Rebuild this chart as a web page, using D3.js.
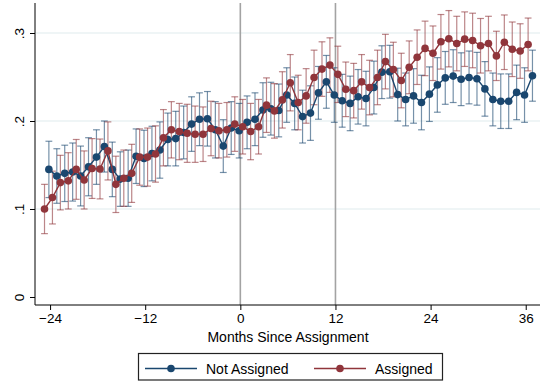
<!DOCTYPE html>
<html>
<head>
<meta charset="utf-8">
<script src="https://d3js.org/d3.v7.min.js"></script>
<style>
	body { margin: 0; background: #fff; }
	text { font-family: "Liberation Sans", Arial, sans-serif; fill: #000; }
</style>
</head>
<body>
<script>

	// months since assignment
	var months = d3.range(-24, 38);

	// share, not assigned / assigned
	var notAssigned = [
		.145, .1375, .1405, .142, .1375, .148, .159, .171, .145, .134, .135, .160,
		.1575, .163, .167, .179, .180, .187, .1965, .202, .2025, .190, .1715, .192,
		.189, .1985, .202, .2125, .214, .212, .2295, .220, .205, .209, .232, .2445,
		.2295, .223, .220, .2275, .2255, .238, .2555, .256, .230, .2245, .2285, .221,
		.2305, .241, .249, .251, .2475, .2495, .248, .2365, .2245, .2225, .2225, .2325, .2295, .2515
	];
	var assigned = [
		.100, .113, .130, .132, .145, .133, .146, .1455, .166, .128, .135, .1405,
		.159, .159, .1625, .181, .190, .188, .186, .185, .185, .1915, .189, .190,
		.1965, .1935, .188, .1935, .218, .2115, .224, .2435, .221, .2285, .2495, .259,
		.2635, .253, .236, .2345, .2445, .238, .2495, .2675, .2585, .246, .261, .2725,
		.2825, .277, .290, .2935, .288, .293, .2915, .2855, .288, .274, .2895, .2815, .2795, .287
	];

	// half width of the confidence bars
	var notAssignedCI = [
		.032, .031, .032, .033, .034, .033, .031, .029, .031, .031, .032, .031,
		.032, .031, .032, .030, .031, .030, .031, .030, .031, .032, .030, .030,
		.031, .030, .030, .031, .030, .030, .031, .030, .030, .031, .030, .030,
		.031, .030, .031, .031, .031, .030, .030, .030, .030, .030, .031, .031,
		.031, .031, .030, .030, .030, .030, .030, .031, .030, .031, .031, .031, .031, .029
	];
	var assignedCI = [
		.028, .030, .031, .032, .034, .033, .034, .034, .033, .032, .032, .033,
		.032, .033, .032, .032, .032, .032, .033, .032, .031, .031, .031, .031,
		.031, .031, .032, .031, .031, .031, .032, .032, .031, .031, .031, .031,
		.031, .032, .031, .031, .031, .031, .031, .031, .031, .031, .030, .031,
		.031, .031, .031, .032, .031, .031, .031, .031, .031, .028, .031, .031, .031, .030
	];

	var xTicks = [-24, -12, 0, 12, 24, 36];
	var yTicks = [0, .1, .2, .3];
	var yTickLabels = ["0", ".1", ".2", ".3"];
	var refLines = [0, 12];
	var seriesNames = ["Not Assigned", "Assigned"];

	var w = 540, h = 381;
	var navy = "#1a476f", maroon = "#90353b";

	var svg = d3.select("body").append("svg")
		.attr("width", w)
		.attr("height", h);

	// scales, plot region is x 35..540, y 3..305
	var x = d3.scaleLinear().domain([-25.9, 37.8]).range([35, 540]);
	var y = d3.scaleLinear().domain([-0.0091, 0.3341]).range([305, 3]);

	// series are dodged a little in x
	var series = [
		{ name: seriesNames[0], vals: notAssigned, ci: notAssignedCI, color: navy, dx: -0.15 },
		{ name: seriesNames[1], vals: assigned, ci: assignedCI, color: maroon, dx: -0.7 }
	];
	series.forEach(function(s) {
		s.pts = months.map(function(m, i) {
			return { x: m + s.dx, v: s.vals[i], lo: s.vals[i] - s.ci[i], hi: s.vals[i] + s.ci[i] };
		});
	});

	// gridlines
	svg.append("g")
		.selectAll("line")
		.data(yTicks.slice(1))
		.enter().append("line")
		.attr("x1", 36).attr("x2", 540)
		.attr("y1", function(d) { return y(d); })
		.attr("y2", function(d) { return y(d); })
		.attr("stroke", "#eaf2f3")
		.attr("stroke-width", 1.5);

	// reference lines at 0 and 12
	svg.append("g")
		.selectAll("line")
		.data(refLines)
		.enter().append("line")
		.attr("x1", function(d) { return x(d); })
		.attr("x2", function(d) { return x(d); })
		.attr("y1", 3).attr("y2", 305)
		.attr("stroke", "#a3a3a3")
		.attr("stroke-width", 1.6);

	// error bars
	var capW = 3.4;
	series.forEach(function(s) {
		var g = svg.append("g")
			.attr("stroke", s.color)
			.attr("stroke-width", 1.2)
			.attr("stroke-opacity", 0.6);
		var bar = g.selectAll("g").data(s.pts).enter().append("g");
		bar.append("line")
			.attr("x1", function(d) { return x(d.x); })
			.attr("x2", function(d) { return x(d.x); })
			.attr("y1", function(d) { return y(d.lo); })
			.attr("y2", function(d) { return y(d.hi); });
		bar.append("line")
			.attr("x1", function(d) { return x(d.x) - capW; })
			.attr("x2", function(d) { return x(d.x) + capW; })
			.attr("y1", function(d) { return y(d.lo); })
			.attr("y2", function(d) { return y(d.lo); });
		bar.append("line")
			.attr("x1", function(d) { return x(d.x) - capW; })
			.attr("x2", function(d) { return x(d.x) + capW; })
			.attr("y1", function(d) { return y(d.hi); })
			.attr("y2", function(d) { return y(d.hi); });
	});

	// connected lines and markers
	var line = d3.line()
		.x(function(d) { return x(d.x); })
		.y(function(d) { return y(d.v); });

	series.forEach(function(s) {
		svg.append("path")
			.datum(s.pts)
			.attr("fill", "none")
			.attr("stroke", s.color)
			.attr("stroke-width", 1.4)
			.attr("d", line);
		svg.append("g")
			.selectAll("circle")
			.data(s.pts)
			.enter().append("circle")
			.attr("cx", function(d) { return x(d.x); })
			.attr("cy", function(d) { return y(d.v); })
			.attr("r", 3.8)
			.attr("fill", s.color);
	});

	// axes
	var xAxis = svg.append("g")
		.attr("transform", "translate(0,305)")
		.call(d3.axisBottom(x).tickValues(xTicks).tickSize(5).tickSizeOuter(0));
	xAxis.select(".domain").attr("d", "M35,0H540");
	xAxis.selectAll("text")
		.attr("y", 8)
		.attr("dy", "0.71em")
		.style("font-size", "13.5px")
		.style("font-family", "'Liberation Sans', Arial, sans-serif");

	var yAxis = svg.append("g")
		.attr("transform", "translate(35,0)")
		.call(d3.axisLeft(y).tickValues(yTicks).tickSize(5).tickSizeOuter(0)
			.tickFormat(function(d, i) { return yTickLabels[i]; }));
	yAxis.select(".domain").attr("d", "M0,3V305");
	yAxis.selectAll(".tick text")
		.attr("x", null).attr("dy", null)
		.attr("text-anchor", "middle")
		.attr("transform", "translate(-11,0) rotate(-90)")
		.style("font-size", "13.5px")
		.style("font-family", "'Liberation Sans', Arial, sans-serif");
	svg.selectAll(".domain, .tick line").attr("stroke", "#000");

	svg.append("text")
		.attr("x", 288)
		.attr("y", 342)
		.attr("text-anchor", "middle")
		.style("font-size", "14px")
		.text("Months Since Assignment");

	// legend
	var legend = svg.append("g");
	legend.append("rect")
		.attr("x", 138.5).attr("y", 353.5)
		.attr("width", 304).attr("height", 26.5)
		.attr("fill", "#fff")
		.attr("stroke", "#222")
		.attr("stroke-width", 1.2);

	var legX = [145, 314];
	var item = legend.selectAll("g.item")
		.data(series)
		.enter().append("g")
		.attr("class", "item")
		.attr("transform", function(d, i) { return "translate(" + legX[i] + ",368.5)"; });
	item.append("line")
		.attr("x1", 0).attr("x2", 52)
		.attr("stroke", function(d) { return d.color; })
		.attr("stroke-width", 1.4);
	item.append("circle")
		.attr("cx", 26).attr("r", 3.8)
		.attr("fill", function(d) { return d.color; });
	item.append("text")
		.attr("x", 61)
		.attr("dy", "0.36em")
		.style("font-size", "14px")
		.text(function(d) { return d.name; });

</script>
</body>
</html>
